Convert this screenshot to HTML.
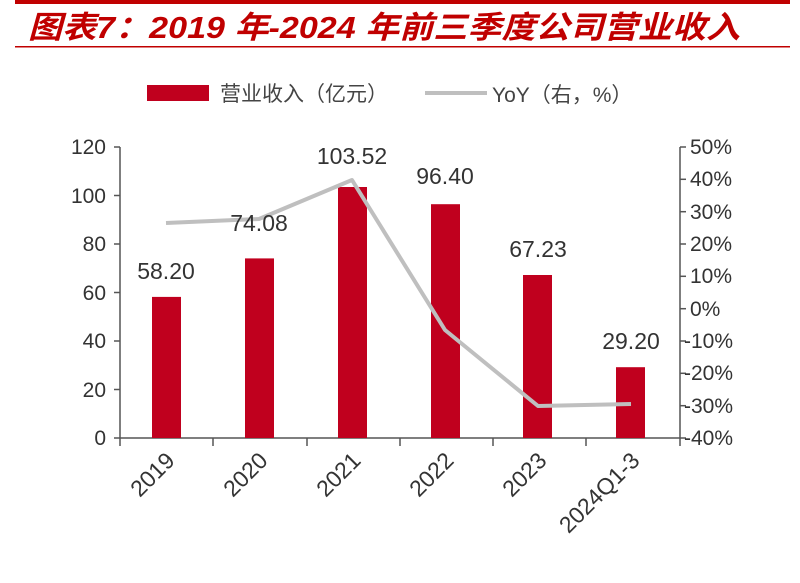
<!DOCTYPE html>
<html><head><meta charset="utf-8"><style>
body{margin:0;background:#fff;}
svg{display:block;font-family:"Liberation Sans","Noto Sans CJK SC",sans-serif;}
</style></head><body>
<svg width="800" height="583" viewBox="0 0 800 583">
<rect x="15" y="0" width="775" height="4" fill="#c00000"/>
<text x="28" y="38" font-size="31" font-weight="bold" font-style="italic" fill="#c00000" textLength="712" lengthAdjust="spacingAndGlyphs">图表7：2019 年-2024 年前三季度公司营业收入</text>
<rect x="15" y="46" width="775" height="1.5" fill="#c00000"/>
<rect x="147" y="85" width="62" height="16" fill="#c0001e"/>
<text x="220" y="101" font-size="21" fill="#444">营业收入（亿元）</text>
<line x1="425" y1="93" x2="487" y2="93" stroke="#bfbfbf" stroke-width="4"/>
<text x="492" y="102" font-size="21" fill="#444">YoY（右，%）</text>
<g stroke="#555" stroke-width="1.5" fill="none">
<line x1="120" y1="147" x2="120" y2="438"/>
<line x1="680" y1="147" x2="680" y2="438"/>
<line x1="114" y1="438" x2="686" y2="438"/>
</g>
<g stroke="#555" stroke-width="1.5">
<line x1="114" y1="147" x2="120" y2="147"/><line x1="114" y1="195.5" x2="120" y2="195.5"/><line x1="114" y1="244" x2="120" y2="244"/><line x1="114" y1="292.5" x2="120" y2="292.5"/><line x1="114" y1="341" x2="120" y2="341"/><line x1="114" y1="389.5" x2="120" y2="389.5"/>
<line x1="680" y1="147" x2="686" y2="147"/><line x1="680" y1="179.3" x2="686" y2="179.3"/><line x1="680" y1="211.7" x2="686" y2="211.7"/><line x1="680" y1="244" x2="686" y2="244"/><line x1="680" y1="276.3" x2="686" y2="276.3"/><line x1="680" y1="308.7" x2="686" y2="308.7"/><line x1="680" y1="341" x2="686" y2="341"/><line x1="680" y1="373.3" x2="686" y2="373.3"/><line x1="680" y1="405.7" x2="686" y2="405.7"/>
<line x1="120" y1="438" x2="120" y2="446"/><line x1="213" y1="438" x2="213" y2="446"/><line x1="307" y1="438" x2="307" y2="446"/><line x1="400" y1="438" x2="400" y2="446"/><line x1="493" y1="438" x2="493" y2="446"/><line x1="586" y1="438" x2="586" y2="446"/><line x1="680" y1="438" x2="680" y2="446"/>
</g>
<g font-size="21" fill="#333" text-anchor="end">
<text x="106" y="154">120</text><text x="106" y="203">100</text><text x="106" y="251">80</text><text x="106" y="300">60</text><text x="106" y="348">40</text><text x="106" y="397">20</text><text x="106" y="445">0</text>
</g>
<g font-size="21" fill="#333" text-anchor="start">
<text x="690" y="154">50%</text><text x="690" y="186">40%</text><text x="690" y="219">30%</text><text x="690" y="251">20%</text><text x="690" y="283">10%</text><text x="690" y="316">0%</text><text x="684" y="348">-10%</text><text x="684" y="380">-20%</text><text x="684" y="413">-30%</text><text x="684" y="445">-40%</text>
</g>
<g fill="#c0001e">
<rect x="152" y="296.9" width="29" height="141.1"/>
<rect x="245" y="258.4" width="29" height="179.6"/>
<rect x="338" y="187" width="29" height="251"/>
<rect x="431" y="204.2" width="29" height="233.8"/>
<rect x="523" y="275" width="29" height="163"/>
<rect x="616" y="367.2" width="29" height="70.8"/>
</g>
<polyline points="166,223 259,219 352,180 445,330 538,406 631,404" fill="none" stroke="#bfbfbf" stroke-width="4" stroke-linejoin="round"/>
<g font-size="23" fill="#333" text-anchor="middle">
<text x="166" y="279">58.20</text><text x="259" y="231">74.08</text><text x="352" y="164">103.52</text><text x="445" y="184">96.40</text><text x="538" y="257">67.23</text><text x="631" y="349">29.20</text>
</g>
<g font-size="23" fill="#333" text-anchor="end">
<text transform="translate(176,462) rotate(-45)">2019</text>
<text transform="translate(269,462) rotate(-45)">2020</text>
<text transform="translate(362,462) rotate(-45)">2021</text>
<text transform="translate(455,462) rotate(-45)">2022</text>
<text transform="translate(548,462) rotate(-45)">2023</text>
<text transform="translate(641,462) rotate(-45)">2024Q1-3</text>
</g>
</svg>
</body></html>
